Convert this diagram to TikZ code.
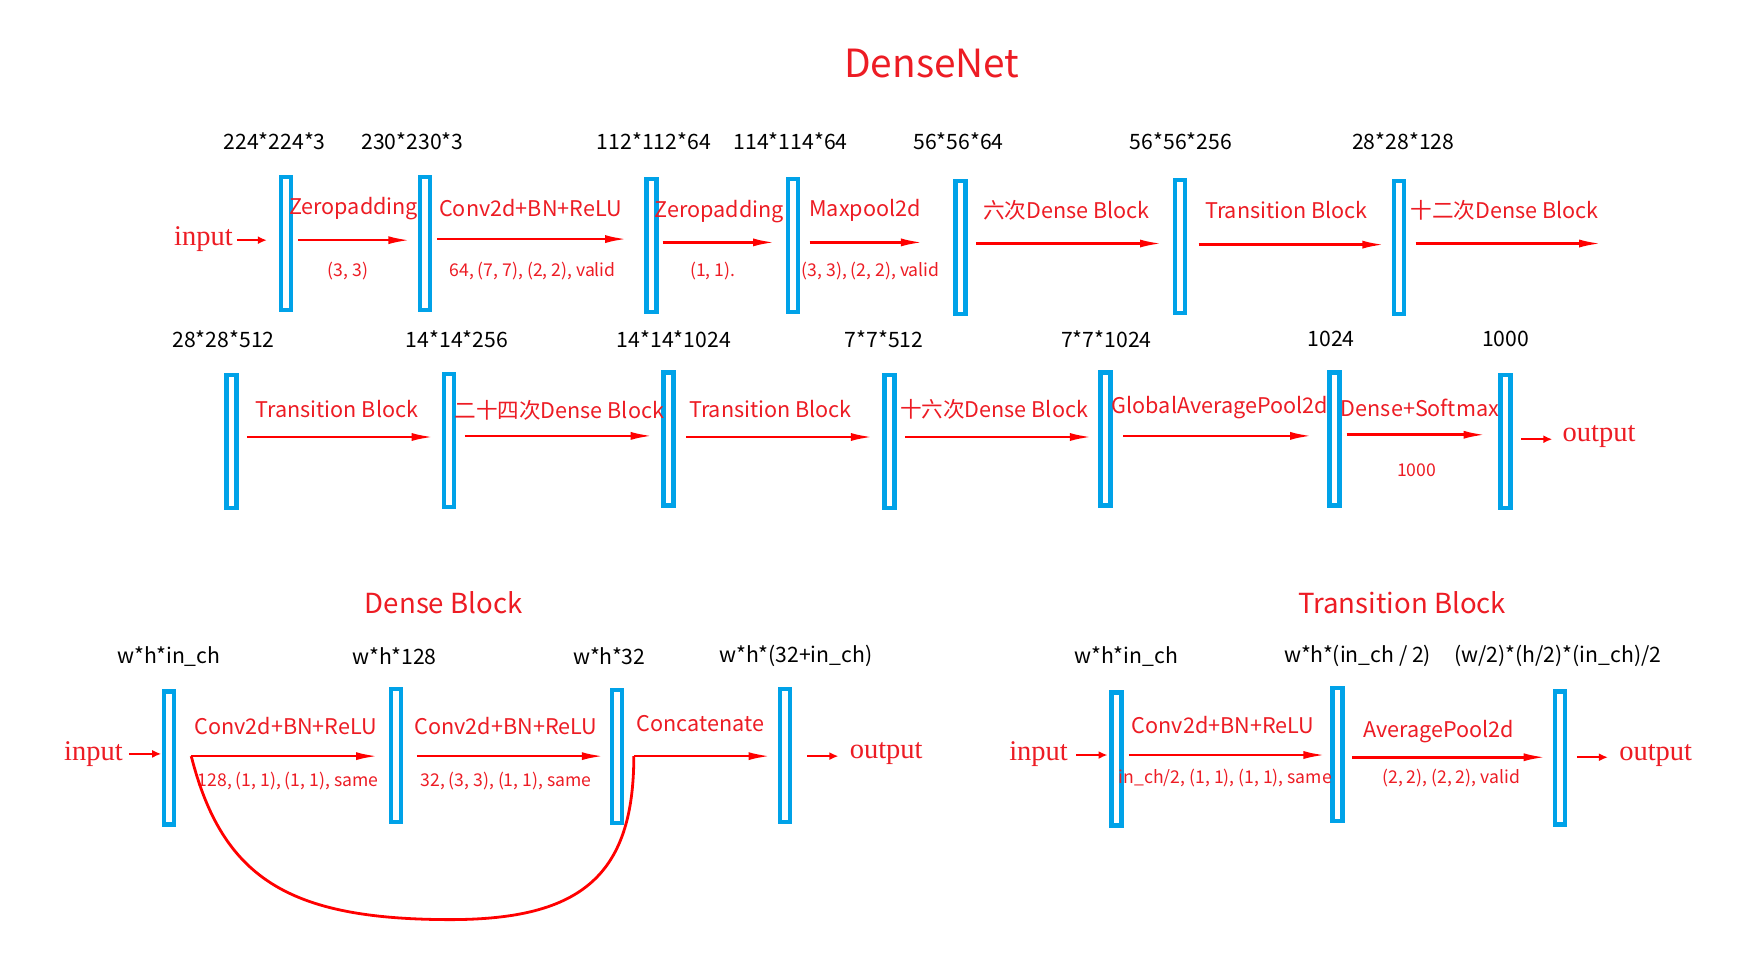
\documentclass[tikz,border=0pt]{standalone}
\usepackage{fontspec}
\setmainfont{Noto Sans CJK SC}
\newfontfamily\serifio{Liberation Serif}
\usetikzlibrary{arrows.meta}
\definecolor{barblue}{HTML}{00A2E8}
\definecolor{txtred}{HTML}{ED1C24}
\definecolor{arrred}{HTML}{FF0000}
\tikzset{
 bar/.style={draw=barblue, line width=4.5pt, minimum width=10pt, minimum height=133pt, inner sep=0pt},
 dimlbl/.style={font=\fontsize{21.2}{25}\selectfont, text=black, inner sep=0pt},
 oplbl/.style={font=\fontsize{21.6}{25}\selectfont, text=txtred, inner sep=0pt},
 parlbl/.style={font=\fontsize{17.6}{21}\selectfont, text=txtred, inner sep=0pt},
 iolbl/.style={font=\serifio\fontsize{28.5}{32}\selectfont, text=txtred, inner sep=0pt},
 headlbl/.style={font=\fontsize{27.6}{32}\selectfont, text=txtred, inner sep=0pt},
 flow/.style={draw=arrred, line width=2.6pt, -{Latex[length=22pt,width=8pt]}},
 ioarrow/.style={draw=arrred, line width=2.2pt, -{Latex[length=9pt,width=8pt]}},
 skip/.style={draw=arrred, line width=2.8pt}
}
\begin{document}
\begin{tikzpicture}[x=1.112pt,y=-1.112pt]
\useasboundingbox[fill=white] (0,0) rectangle (1566.6,875.9);

% title
\node[font=\fontsize{38.8}{44}\selectfont, text=txtred, inner sep=0pt] (title) at (838,57) {DenseNet};

% ---------- row 1 ----------
\node[bar] (r1) at (257,219) {};
\node[bar] (r2) at (382,219) {};
\node[bar] (r3) at (586,221) {};
\node[bar] (r4) at (713,221) {};
\node[bar] (r5) at (864,222.5) {};
\node[bar] (r6) at (1061,221.5) {};
\node[bar] (r7) at (1258,222.5) {};

\node[dimlbl] (d11) at (247,127) {224*224*3};
\node[dimlbl] (d12) at (371,127) {230*230*3};
\node[dimlbl] (d13) at (588,127) {112*112*64};
\node[dimlbl] (d14) at (711,127) {114*114*64};
\node[dimlbl] (d15) at (862,127) {56*56*64};
\node[dimlbl] (d16) at (1062,127) {56*56*256};
\node[dimlbl] (d17) at (1262,127) {28*28*128};

\node[iolbl] (in1) at (183,215) {input};
\coordinate (i1s) at (213,216); \coordinate (i1e) at (240,216);
\draw[ioarrow] (i1s) -- (i1e);

\coordinate (a1s) at (268,216); \coordinate (a1e) at (369,216);
\coordinate (a2s) at (393,215); \coordinate (a2e) at (564,215);
\coordinate (a3s) at (596,218); \coordinate (a3e) at (697,218);
\coordinate (a4s) at (728,218); \coordinate (a4e) at (830,218);
\coordinate (a5s) at (878,219); \coordinate (a5e) at (1045,219);
\coordinate (a6s) at (1078,220); \coordinate (a6e) at (1245,220);
\coordinate (a7s) at (1273,219); \coordinate (a7e) at (1440,219);
\foreach \k in {1,...,7} {\draw[flow] (a\k s) -- (a\k e);}

\node[oplbl] (o11) at (318,188) {Zeropadding};
\node[parlbl] (p11) at (313,244) {(3, 3)};
\node[oplbl] (o12) at (477,187) {Conv2d+BN+ReLU};
\node[parlbl] (p12) at (479,244) {64, (7, 7), (2, 2), valid};
\node[oplbl] (o13) at (647,190) {Zeropadding};
\node[parlbl] (p13) at (641,244) {(1, 1).};
\node[oplbl] (o14) at (778,189) {Maxpool2d};
\node[parlbl] (p14) at (783,244) {(3, 3), (2, 2), valid};
\node[oplbl] (o15) at (959,189) {六次Dense Block};
\node[oplbl] (o16) at (1157,189) {Transition Block};
\node[oplbl] (o17) at (1353,189) {十二次Dense Block};

% ---------- row 2 ----------
\node[bar] (s1) at (208,397) {};
\node[bar] (s2) at (404,396) {};
\node[bar] (s3) at (601,395) {};
\node[bar] (s4) at (800,397) {};
\node[bar] (s5) at (994,395) {};
\node[bar] (s6) at (1200,395) {};
\node[bar] (s7) at (1354,397) {};

\node[dimlbl] (d21) at (201,305) {28*28*512};
\node[dimlbl] (d22) at (411,305) {14*14*256};
\node[dimlbl] (d23) at (606,305) {14*14*1024};
\node[dimlbl] (d24) at (795,305) {7*7*512};
\node[dimlbl] (d25) at (995,305) {7*7*1024};
\node[dimlbl] (d26) at (1197,305) {1024};
\node[dimlbl] (d27) at (1354,305) {1000};

\coordinate (b1s) at (222,393); \coordinate (b1e) at (390,393);
\coordinate (b2s) at (418,392); \coordinate (b2e) at (587,392);
\coordinate (b3s) at (617,393); \coordinate (b3e) at (785,393);
\coordinate (b4s) at (814,393); \coordinate (b4e) at (982,393);
\coordinate (b5s) at (1010,392); \coordinate (b5e) at (1180,392);
\coordinate (b6s) at (1211,391); \coordinate (b6e) at (1336,391);
\foreach \k in {1,...,6} {\draw[flow] (b\k s) -- (b\k e);}

\node[oplbl] (o21) at (303,368) {Transition Block};
\node[oplbl] (o22) at (503,369) {二十四次Dense Block};
\node[oplbl] (o23) at (693,368) {Transition Block};
\node[oplbl] (o24) at (894,368) {十六次Dense Block};
\node[oplbl] (o25) at (1097,367) {GlobalAveragePool2d};
\node[oplbl] (o26) at (1277,367) {Dense+Softmax};
\node[parlbl] (p26) at (1274,423) {1000};

\coordinate (out1s) at (1368,395); \coordinate (out1e) at (1396,395);
\draw[ioarrow] (out1s) -- (out1e);
\node[iolbl] (out1) at (1438,393) {output};

% ---------- Dense Block ----------
\node[headlbl] (hd) at (399,542) {Dense Block};
\node[dimlbl] (dd1) at (152,590) {w*h*in\_ch};
\node[dimlbl] (dd2) at (355,590) {w*h*128};
\node[dimlbl] (dd3) at (548,590) {w*h*32};
\node[dimlbl] (dd4) at (716,590) {w*h*(32+in\_ch)};

\node[bar] (db1) at (152,681.5) {};
\node[bar] (db2) at (356,679.5) {};
\node[bar] (db3) at (555,680.5) {};
\node[bar] (db4) at (706,679.5) {};

\node[iolbl] (in2) at (84,678) {input};
\coordinate (i2s) at (116,678); \coordinate (i2e) at (145,678);
\draw[ioarrow] (i2s) -- (i2e);

\coordinate (c1s) at (172,680); \coordinate (c1e) at (340,680);
\coordinate (c2s) at (375,680); \coordinate (c2e) at (543,680);
\coordinate (c3s) at (570,680); \coordinate (c3e) at (693,680);
\foreach \k in {1,2,3} {\draw[flow] (c\k s) -- (c\k e);}
\node[oplbl] (od1) at (257,653) {Conv2d+BN+ReLU};
\node[parlbl] (pd1) at (259,702) {128, (1, 1), (1, 1), same};
\node[oplbl] (od2) at (455,653) {Conv2d+BN+ReLU};
\node[parlbl] (pd2) at (455,702) {32, (3, 3), (1, 1), same};
\node[oplbl] (od3) at (630,651) {Concatenate};

\coordinate (cb) at (400,827);
\draw[skip] (c1s) .. controls (200,790) and (260,826) .. (cb)
            .. controls (520,828) and (570,790) .. (c3s);

\coordinate (out2s) at (726,680); \coordinate (out2e) at (754,680);
\draw[ioarrow] (out2s) -- (out2e);
\node[iolbl] (out2) at (797,678) {output};

% ---------- Transition Block ----------
\node[headlbl] (ht) at (1261,542) {Transition Block};
\node[dimlbl] (dt1) at (1013,590) {w*h*in\_ch};
\node[dimlbl] (dt2) at (1221,590) {w*h*(in\_ch / 2)};
\node[dimlbl] (dt3) at (1401,590) {(w/2)*(h/2)*(in\_ch)/2};

\node[bar] (tb1) at (1004,682.5) {};
\node[bar] (tb2) at (1203,678.5) {};
\node[bar] (tb3) at (1403,681.5) {};

\node[iolbl] (in3) at (934,678) {input};
\coordinate (i3s) at (968,679); \coordinate (i3e) at (996,679);
\draw[ioarrow] (i3s) -- (i3e);

\coordinate (t1s) at (1015,679); \coordinate (t1e) at (1192,679);
\coordinate (t2s) at (1216,681); \coordinate (t2e) at (1390,681);
\foreach \k in {1,2} {\draw[flow] (t\k s) -- (t\k e);}
\node[oplbl] (ot1) at (1100,652) {Conv2d+BN+ReLU};
\node[parlbl] (pt1) at (1102,700) {in\_ch/2, (1, 1), (1, 1), same};
\node[oplbl] (ot2) at (1294,658) {AveragePool2d};
\node[parlbl] (pt2) at (1305,700) {(2, 2), (2, 2), valid};

\coordinate (out3s) at (1418,681); \coordinate (out3e) at (1446,681);
\draw[ioarrow] (out3s) -- (out3e);
\node[iolbl] (out3) at (1489,679) {output};
\end{tikzpicture}
\end{document}
